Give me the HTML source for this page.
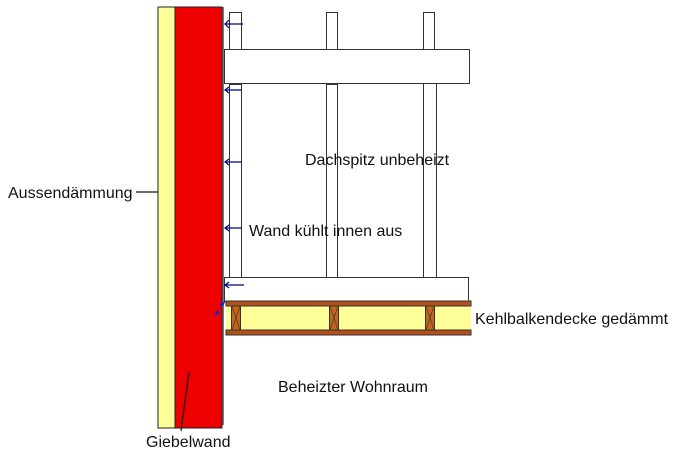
<!DOCTYPE html>
<html><head><style>
html,body{margin:0;padding:0;background:#fff;}
svg{display:block;}
text{font-family:"Liberation Sans",Arial,sans-serif;font-size:16px;fill:#111;}
</style></head><body>
<svg width="677" height="456" viewBox="0 0 677 456" xmlns="http://www.w3.org/2000/svg">
<line x1="223" y1="7" x2="223" y2="425" stroke="#777" stroke-width="2"/>
<rect x="158" y="7" width="17" height="421" fill="#ffff99" stroke="#222" stroke-width="1"/>
<rect x="175" y="7" width="47" height="421" fill="#ee0000" stroke="#222" stroke-width="1"/>
<g fill="#fff" stroke="#333" stroke-width="1">
<rect x="229.5" y="12.5" width="12" height="38"/>
<rect x="326.5" y="12.5" width="11" height="37"/>
<rect x="423.5" y="12.5" width="11" height="37"/>
<rect x="229.5" y="84.5" width="12" height="193"/>
<rect x="326.5" y="84.5" width="11" height="194"/>
<rect x="423.5" y="82.5" width="13" height="195"/>
<rect x="224.5" y="49.5" width="245" height="34"/>
<rect x="224.5" y="277.5" width="244" height="24"/>
</g>
<rect x="226" y="301" width="245" height="34" fill="#ffff99"/>
<rect x="226" y="301" width="245" height="5" fill="#b5501a" stroke="#333" stroke-width="1"/>
<rect x="226" y="330" width="245" height="5" fill="#b5501a" stroke="#333" stroke-width="1"/>
<g stroke="#333" stroke-width="1" fill="#c8631f">
<rect x="231.5" y="306" width="9" height="24"/>
<rect x="329.5" y="306" width="9" height="24"/>
<rect x="425.5" y="306" width="9" height="24"/>
</g>
<g stroke="#442" stroke-width="0.8">
<line x1="232" y1="306" x2="240" y2="330"/><line x1="240" y1="306" x2="232" y2="330"/>
<line x1="330" y1="306" x2="338" y2="330"/><line x1="338" y1="306" x2="330" y2="330"/>
<line x1="426" y1="306" x2="434" y2="330"/><line x1="434" y1="306" x2="426" y2="330"/>
</g>
<g stroke="#00008b" stroke-width="1.2" fill="none">
<path d="M243 24 H225 M229 20 L225 24 L229 28"/>
<path d="M242 90 H225 M229 87 L225 90 L229 93"/>
<path d="M242 162 H225 M229 159 L225 162 L229 165"/>
<path d="M242 228 H225 M229 225 L225 228 L229 231"/>
<path d="M244 285 H225 M229 282 L225 285 L229 288"/>
</g>
<g fill="#2222cc"><path d="M226 301 L219 304 L222 307 Z"/><path d="M218 309 L214 316 L219 314 Z"/></g>
<line x1="136" y1="192" x2="158" y2="192" stroke="#111" stroke-width="1.2"/>
<line x1="189" y1="372" x2="181" y2="431" stroke="#111" stroke-width="1.2"/>
<text x="8" y="198">Aussendämmung</text>
<text x="146" y="447">Giebelwand</text>
<text x="305" y="165">Dachspitz unbeheizt</text>
<text x="249" y="236">Wand kühlt innen aus</text>
<text x="475" y="324">Kehlbalkendecke gedämmt</text>
<text x="278" y="392">Beheizter Wohnraum</text>
</svg>
</body></html>
